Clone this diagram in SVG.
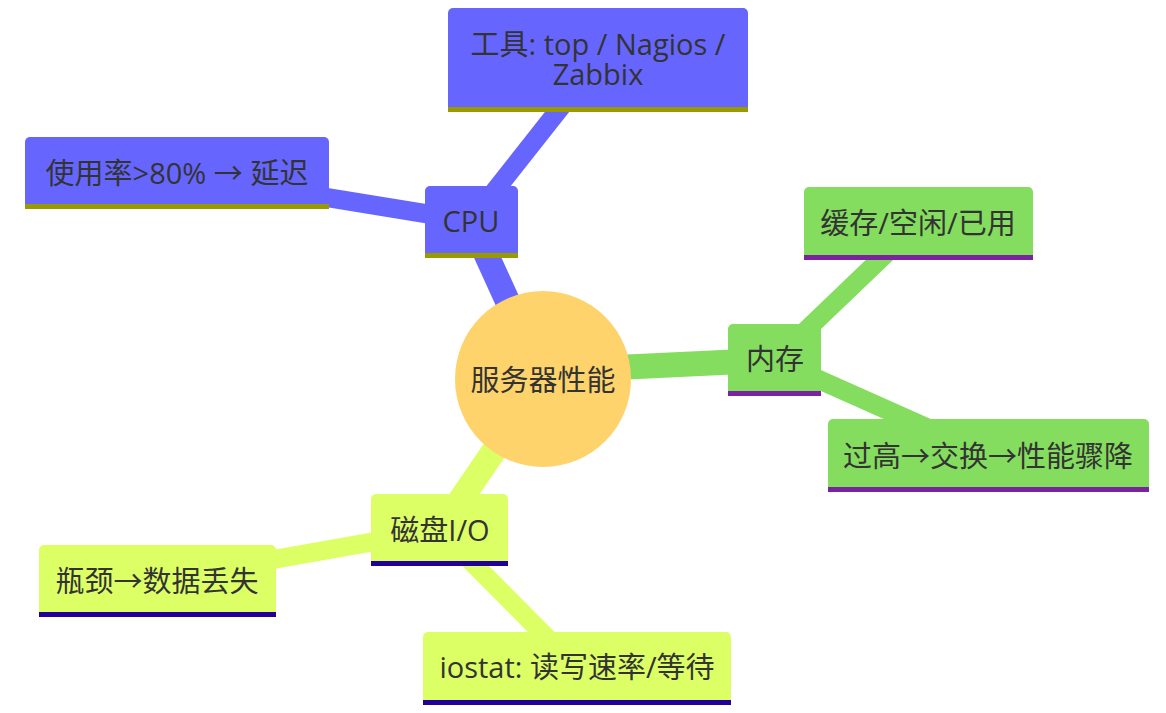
<svg xmlns="http://www.w3.org/2000/svg" width="1166" height="713" viewBox="0 0 1166 713">
<style>
text{font-family:"Open Sans","Noto Sans CJK SC",sans-serif;font-size:29px;fill:#333;text-anchor:middle;dominant-baseline:central}
.e{fill:none;stroke-linecap:butt}
.d1{stroke-width:25}
.d2{stroke-width:19}
.s0{fill:#6666ff}.s0e{stroke:#6666ff}.s0u{fill:#999900}
.s1{fill:#84dd5e}.s1e{stroke:#84dd5e}.s1u{fill:#7b22a1}
.s2{fill:#ddff66}.s2e{stroke:#ddff66}.s2u{fill:#220099}
</style>
<rect width="1166" height="713" fill="#fff"/>
<g id="connectors">
<path class="e d1 s0e" d="M543,379L471,221"/>
<path class="e d2 s0e" d="M471,221L598,60"/>
<path class="e d2 s0e" d="M471,221L177,173"/>
<path class="e d1 s1e" d="M543,371L775,360"/>
<path class="e d2 s1e" d="M775,360L918,223"/>
<path class="e d2 s1e" d="M775,360L988,455"/>
<path class="e d1 s2e" d="M543,379L440,530"/>
<path class="e d2 s2e" d="M440,530L157,580"/>
<path class="e d2 s2e" d="M440,530L577,668"/>
</g>
<g id="root">
<circle cx="543" cy="379" r="88" fill="#fed36b"/>
<text x="543" y="379">服务器性能</text>
</g>
<g id="cpu">
<path class="s0" d="M425,258V191a5,5 0 0 1 5,-5H513a5,5 0 0 1 5,5V258Z"/>
<rect class="s0u" x="425" y="253" width="93" height="5"/>
<text x="471" y="220">CPU</text>
</g>
<g id="tools">
<path class="s0" d="M448,112V13a5,5 0 0 1 5,-5H743a5,5 0 0 1 5,5V112Z"/>
<rect class="s0u" x="448" y="107" width="300" height="5"/>
<text x="598" y="43">工具: top / Nagios /</text>
<text x="598" y="73">Zabbix</text>
</g>
<g id="usage">
<path class="s0" d="M25,209V142a5,5 0 0 1 5,-5H324a5,5 0 0 1 5,5V209Z"/>
<rect class="s0u" x="25" y="204" width="304" height="5"/>
<text x="177" y="172">使用率&gt;80% → 延迟</text>
</g>
<g id="memory">
<path class="s1" d="M728,396V329a5,5 0 0 1 5,-5H816a5,5 0 0 1 5,5V396Z"/>
<rect class="s1u" x="728" y="391" width="93" height="5"/>
<text x="775" y="358">内存</text>
</g>
<g id="cache">
<path class="s1" d="M804,260V192a5,5 0 0 1 5,-5H1028a5,5 0 0 1 5,5V260Z"/>
<rect class="s1u" x="804" y="255" width="229" height="5"/>
<text x="918" y="222">缓存/空闲/已用</text>
</g>
<g id="high">
<path class="s1" d="M828,492V424a5,5 0 0 1 5,-5H1144a5,5 0 0 1 5,5V492Z"/>
<rect class="s1u" x="828" y="487" width="321" height="5"/>
<text x="988" y="455">过高→交换→性能骤降</text>
</g>
<g id="disk">
<path class="s2" d="M371,566V499a5,5 0 0 1 5,-5H503a5,5 0 0 1 5,5V566Z"/>
<rect class="s2u" x="371" y="561" width="137" height="5"/>
<text x="440" y="529">磁盘I/O</text>
</g>
<g id="bottleneck">
<path class="s2" d="M39,617V550a5,5 0 0 1 5,-5H271a5,5 0 0 1 5,5V617Z"/>
<rect class="s2u" x="39" y="612" width="237" height="5"/>
<text x="157" y="580">瓶颈→数据丢失</text>
</g>
<g id="iostat">
<path class="s2" d="M423,705V637a5,5 0 0 1 5,-5H726a5,5 0 0 1 5,5V705Z"/>
<rect class="s2u" x="423" y="700" width="308" height="5"/>
<text x="577" y="666">iostat: 读写速率/等待</text>
</g>
</svg>
